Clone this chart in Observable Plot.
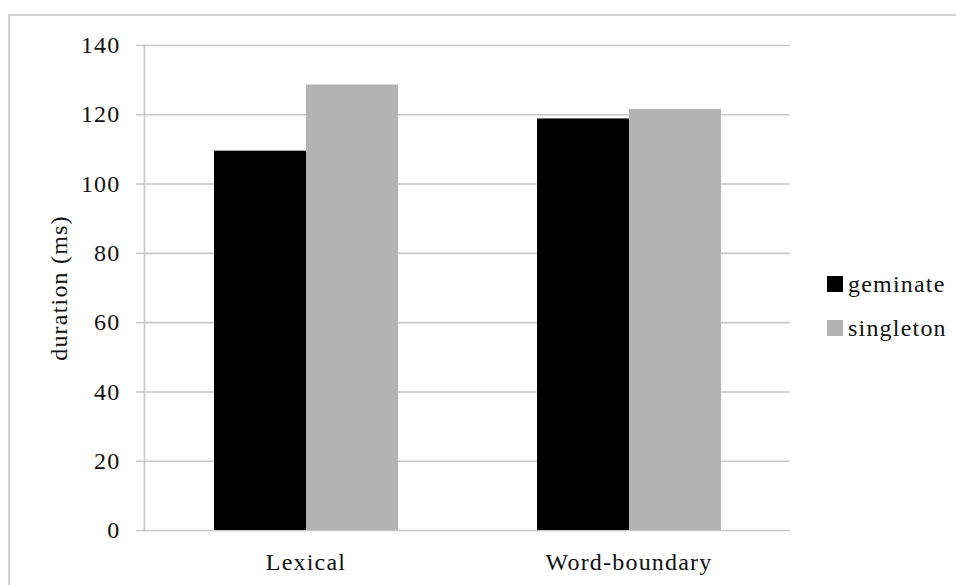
<!DOCTYPE html>
<html>
<head>
<meta charset="utf-8">
<script src="https://cdn.jsdelivr.net/npm/d3@7"></script>
<script src="https://cdn.jsdelivr.net/npm/@observablehq/plot@0.6"></script>
<style>
  html, body { margin: 0; padding: 0; background: #fff; }
  #wrap { position: relative; width: 956px; height: 585px; overflow: hidden; }
  #border { position: absolute; left: 8px; top: 14px; width: 1000px; height: 700px;
            border-left: 2px solid #d2d2d2; border-top: 2px solid #d2d2d2; }
  #chart { position: absolute; left: 0; top: 0; }
  #legend { position: absolute; left: 827px; top: 262px; font-family: 'Liberation Serif', 'Times New Roman', 'DejaVu Serif', serif;
            font-size: 24px; letter-spacing: 1.2px; color: #111; }
  .row { display: flex; align-items: center; height: 44px; line-height: 44px; }
  .sw { width: 16px; height: 16px; margin-right: 5px; }
  #chart svg text { font-family: 'Liberation Serif', 'Times New Roman', 'DejaVu Serif', serif; }
</style>
</head>
<body>
<div id="wrap">
  <div id="border"></div>
  <div id="chart"></div>
  <div id="legend"></div>
</div>
<script>
const categories = ["Lexical", "Word-boundary"];
const series = ["geminate", "singleton"];
const geminateValues = [109.5, 118.8];
const singletonValues = [128.6, 121.5];
const seriesColors = ["#000000", "#b3b3b3"];
const yTicks = [0, 20, 40, 60, 80, 100, 120, 140];
const yLabel = "duration (ms)";

const valuesBySeries = {geminate: geminateValues, singleton: singletonValues};
const table = categories.flatMap((c, i) =>
  series.map(s => ({category: c, series: s, value: valuesBySeries[s][i]})));

const grid = "#c8c8c8";
const chart = Plot.plot({
  width: 956,
  height: 585,
  marginTop: 45,
  marginBottom: 55,
  marginLeft: 144,
  marginRight: 166,
  style: {fontFamily: "'Liberation Serif', 'Times New Roman', serif", fontSize: "24px", letterSpacing: "1.2px", color: "#111", background: "transparent"},
  fx: {domain: categories, padding: 0, axis: "bottom", tickSize: 0, tickPadding: 22, label: null},
  x: {domain: series, paddingInner: 0, paddingOuter: 0.755, axis: null},
  y: {domain: [0, 140], axis: null},
  color: {domain: series, range: seriesColors},
  marks: [
    Plot.ruleY(yTicks, {y: d => d, stroke: grid, strokeWidth: 1.6}),
    Plot.frame({anchor: "left", facetAnchor: "left", stroke: grid, strokeWidth: 1.6}),
    Plot.axisY({ticks: yTicks, tickSize: 8, tickPadding: 16, stroke: grid, strokeWidth: 1.6, fill: "#111",
                label: yLabel, labelAnchor: "center", labelArrow: "none", labelOffset: 95}),
    Plot.barY(table, {fx: "category", x: "series", y: "value", fill: "series"})
  ]
});
document.getElementById("chart").append(chart);

const legend = document.getElementById("legend");
series.forEach((s, i) => {
  const row = document.createElement("div");
  row.className = "row";
  const sw = document.createElement("span");
  sw.className = "sw";
  sw.style.background = seriesColors[i];
  const t = document.createElement("span");
  t.textContent = s;
  row.append(sw, t);
  legend.append(row);
});
</script>
</body>
</html>
